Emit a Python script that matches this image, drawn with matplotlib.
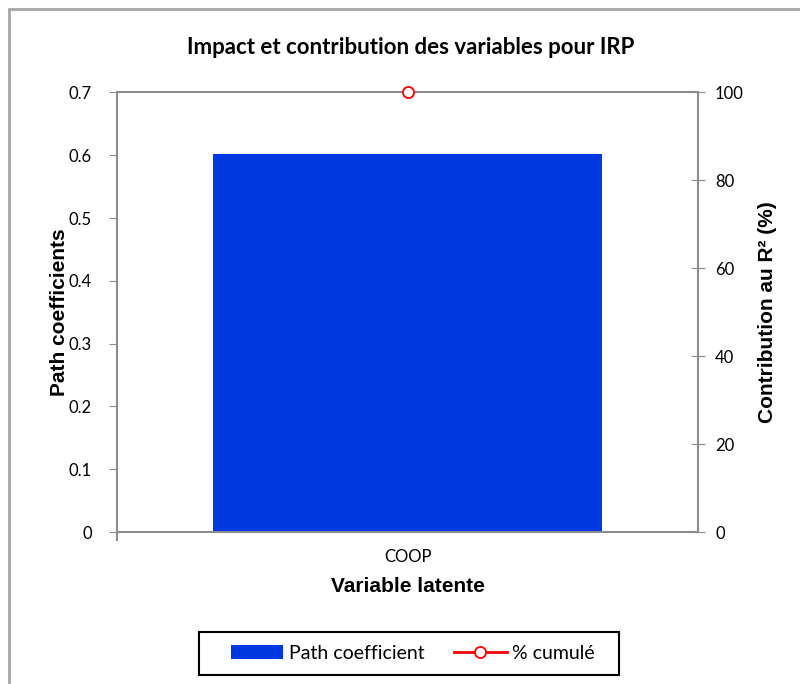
import matplotlib.pyplot as plt
from matplotlib.patches import Rectangle

# data
categories = ["COOP"]
path_coefficients = [0.602]
pct_cumule = [100]

left_ticks = [0, 0.1, 0.2, 0.3, 0.4, 0.5, 0.6, 0.7]
right_ticks = [0, 20, 40, 60, 80, 100]

bar_color = "#0038E0"
spine_color = "#8c8c8c"

fig = plt.figure(figsize=(8, 6.84), dpi=100)
ax = fig.add_axes([0.146, 0.222, 0.727, 0.643])

# outer chart border (Excel style)
fig.patches.append(Rectangle((8.5 / 800, -0.1), 1.2, 1 - 9 / 684 + 0.1,
                             transform=fig.transFigure, fill=False,
                             edgecolor="#a6a6a6", linewidth=2))

x = list(range(len(categories)))
bars = ax.bar(x, path_coefficients, width=0.668, color=bar_color,
              label="Path coefficient", zorder=2)

ax.set_xlim(-0.5, len(categories) - 0.5)
ax.set_ylim(0, 0.7)
ax.set_yticks(left_ticks)
ax.set_yticklabels(["0"] + [f"{t:.1f}" for t in left_ticks[1:]],
                   fontfamily="Lato", fontsize=12)
ax.set_xticks([-0.5] + x)
ax.set_xticklabels([""] + categories, fontfamily="Lato", fontsize=12)
ax.tick_params(axis="x", length=0, pad=12)
ax.tick_params(axis="y", direction="out", length=6, color=spine_color, pad=12)

for s in ["left", "right", "top", "bottom"]:
    ax.spines[s].set_color(spine_color)
    ax.spines[s].set_linewidth(1.5)

ax2 = ax.twinx()
line, = ax2.plot(x, pct_cumule, color="red", linewidth=2, marker="o",
                 markersize=8, markerfacecolor="white",
                 markeredgecolor="red", markeredgewidth=1.3,
                 label="% cumulé", clip_on=False, zorder=5)
ax2.set_ylim(0, 100)
ax2.set_yticks(right_ticks)
ax2.set_yticklabels([str(t) for t in right_ticks], fontfamily="Lato", fontsize=12)
ax2.tick_params(axis="y", direction="inout", length=10, color=spine_color, pad=7)
for s in ["left", "right", "top", "bottom"]:
    ax2.spines[s].set_visible(False)

# small tick at x origin below axis
ax.plot([-0.5, -0.5], [0, -0.012], color=spine_color, lw=1.5, clip_on=False)

ax.set_xlabel("Variable latente", fontfamily="Liberation Sans",
              fontweight="bold", fontsize=15, labelpad=9)
ax.set_ylabel("Path coefficients", fontfamily="Liberation Sans",
              fontweight="bold", fontsize=15, labelpad=0)
ax2.set_ylabel("Contribution au R² (%)", fontfamily="Liberation Sans",
               fontweight="bold", fontsize=15, labelpad=10)

fig.text(0.513, 0.931, "Impact et contribution des variables pour IRP",
         ha="center", va="center", fontfamily="Lato", fontweight="bold",
         fontsize=16)

# legend frame drawn separately so its size matches the reference box
fig.patches.append(Rectangle((199 / 800, 1 - 675 / 684), 420 / 800, 43 / 684,
                             transform=fig.transFigure, fill=False,
                             edgecolor="black", linewidth=1.5))
leg = fig.legend([bars, line], ["Path coefficient", "% cumulé"],
                 loc="center", bbox_to_anchor=(413 / 800, 1 - 653.5 / 684),
                 ncol=2, frameon=False, prop={"family": "Lato", "size": 14},
                 handlelength=2.7, handletextpad=0.3, columnspacing=1.5)

fig.savefig("out.png", dpi=100)
